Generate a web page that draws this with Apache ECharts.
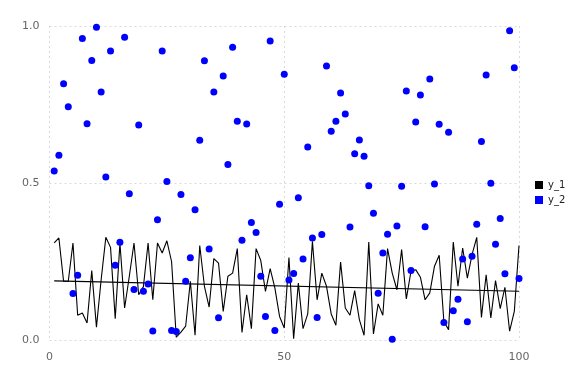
<!DOCTYPE html>
<html>
<head>
<meta charset="utf-8">
<script src="https://cdn.jsdelivr.net/npm/echarts@6/dist/echarts.min.js"></script>
<style>html,body{margin:0;padding:0;background:#fff}#c{width:576px;height:384px}</style>
</head>
<body>
<div id="c"></div>
<script>
var xValues = [];
for (var i = 1; i <= 100; i++) xValues.push(i);

var y1 = [0.309,0.325,0.187,0.187,0.309,0.079,0.086,0.054,0.221,0.041,
0.192,0.327,0.295,0.068,0.309,0.102,0.203,0.309,0.144,0.170,
0.309,0.128,0.309,0.277,0.316,0.250,0.009,0.025,0.044,0.187,
0.015,0.301,0.171,0.105,0.259,0.245,0.091,0.203,0.213,0.291,
0.024,0.144,0.036,0.291,0.253,0.155,0.227,0.166,0.075,0.038,
0.263,0.004,0.181,0.036,0.083,0.314,0.128,0.213,0.171,0.083,
0.047,0.248,0.102,0.079,0.157,0.065,0.015,0.312,0.019,0.115,
0.079,0.291,0.213,0.160,0.288,0.131,0.219,0.224,0.200,0.128,
0.150,0.235,0.270,0.059,0.033,0.312,0.171,0.293,0.197,0.272,
0.327,0.072,0.208,0.070,0.189,0.100,0.168,0.028,0.091,0.301];

var y2 = [0.538,0.588,0.816,0.743,0.148,0.206,0.960,0.689,0.890,0.996,
0.790,0.519,0.920,0.238,0.311,0.964,0.466,0.161,0.685,0.155,
0.178,0.029,0.383,0.920,0.505,0.030,0.027,0.463,0.187,0.262,
0.415,0.636,0.889,0.290,0.790,0.071,0.841,0.559,0.932,0.697,
0.318,0.688,0.374,0.342,0.203,0.075,0.952,0.030,0.432,0.846,
0.191,0.212,0.453,0.258,0.615,0.325,0.072,0.336,0.873,0.665,
0.697,0.787,0.720,0.360,0.593,0.637,0.585,0.491,0.404,0.149,
0.277,0.337,0.002,0.363,0.490,0.793,0.221,0.694,0.780,0.361,
0.831,0.497,0.687,0.056,0.662,0.093,0.130,0.258,0.058,0.267,
0.369,0.632,0.844,0.499,0.305,0.387,0.211,0.985,0.867,0.196];

var xTicks = [0, 50, 100];
var yTicks = [0, 0.5, 1.0];

// least-squares fit of y_1
var n = xValues.length, sx = 0, sy = 0, sxx = 0, sxy = 0;
for (var k = 0; k < n; k++) { sx += xValues[k]; sy += y1[k]; sxx += xValues[k]*xValues[k]; sxy += xValues[k]*y1[k]; }
var slope = (n*sxy - sx*sy) / (n*sxx - sx*sx);
var icpt = (sy - slope*sx) / n;
var xa = xValues[0], xb = xValues[n-1];
var fitData = [[xa, icpt + slope*xa], [xb, icpt + slope*xb]];

var d1 = xValues.map(function (x, j) { return [x, y1[j]]; });
var d2 = xValues.map(function (x, j) { return [x, y2[j]]; });

var chart = echarts.init(document.getElementById('c'), null, {renderer: 'canvas'});
var gridLine = {show: true, lineStyle: {color: '#d9d9e3', type: [2, 3], width: 1}};
chart.setOption({
  animation: false,
  backgroundColor: '#fff',
  textStyle: {fontFamily: 'DejaVu Sans'},
  grid: {left: 49.5, right: 57, top: 26, bottom: 44, containLabel: false},
  legend: {
    data: ['y_1', 'y_2'],
    orient: 'vertical', left: 530, top: 175,
    icon: 'rect', itemWidth: 8, itemHeight: 8, itemGap: 5,
    textStyle: {fontSize: 10, color: '#222', fontFamily: 'DejaVu Sans'}
  },
  xAxis: {
    type: 'value', min: xTicks[0], max: xTicks[2], interval: 50,
    axisLine: {show: false}, axisTick: {show: false},
    axisLabel: {color: '#666', fontSize: 11, margin: 12},
    splitLine: gridLine
  },
  yAxis: {
    type: 'value', min: yTicks[0], max: yTicks[2], interval: 0.5,
    axisLine: {show: false}, axisTick: {show: false},
    axisLabel: {color: '#666', fontSize: 11, margin: 10, formatter: function (v) { return v.toFixed(1); }},
    splitLine: gridLine
  },
  series: [
    {name: 'y_1', type: 'line', data: d1, symbol: 'none', itemStyle: {color: '#000'},
     lineStyle: {color: '#000', width: 1.1}, z: 2},
    {name: 'fit', type: 'line', data: fitData, symbol: 'none',
     lineStyle: {color: '#000', width: 1.1}, z: 2},
    {name: 'y_2', type: 'scatter', data: d2, symbol: 'circle', symbolSize: 7,
     itemStyle: {color: '#0000ff', opacity: 1}, z: 3}
  ]
});
</script>
</body>
</html>
